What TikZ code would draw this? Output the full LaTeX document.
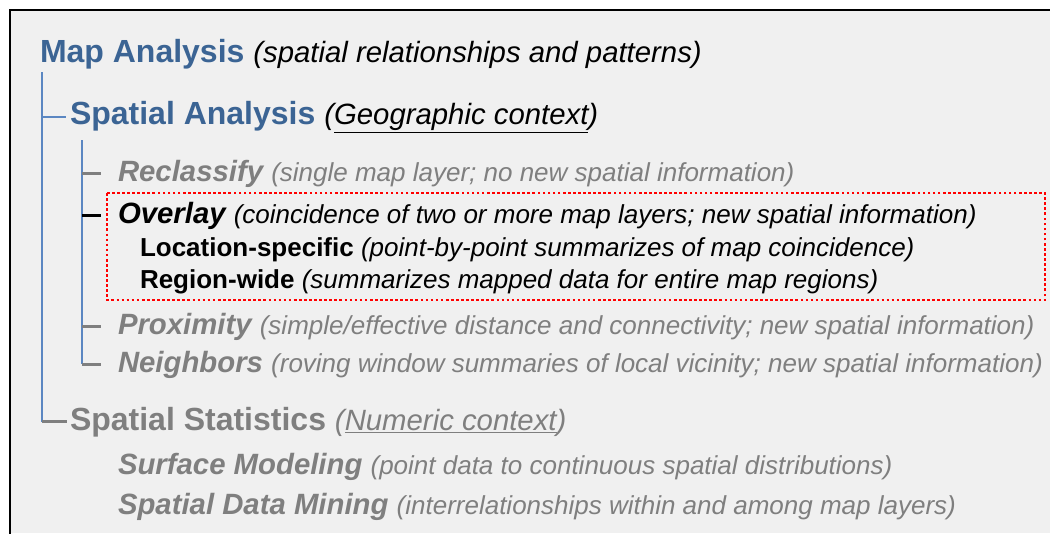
\documentclass[tikz,border=0pt]{standalone}
\usepackage{fontspec}
\setmainfont{Liberation Sans}
\definecolor{titleblue}{HTML}{3B6494}
\definecolor{trunkblue}{HTML}{5B87C2}
\definecolor{midgray}{HTML}{7F7F7F}
\definecolor{panelgray}{HTML}{F0F0F0}
\newcommand\fsBig{\fontsize{24pt}{28pt}\selectfont}
\newcommand\fsMid{\fontsize{22pt}{26pt}\selectfont}
\newcommand\fsSmall{\fontsize{19.5pt}{23pt}\selectfont}
\begin{document}
\begin{tikzpicture}[x=0.75pt,y=-0.75pt,
  line/.style={anchor=base west, inner sep=0pt, outer sep=0pt},
  trunk/.style={draw=trunkblue, line width=1.9pt},
  branchgray/.style={draw=midgray, line width=1.9pt},
  branchblack/.style={draw=black, line width=1.9pt},
  redbox/.style={draw=red, line width=2pt, dash pattern=on 2pt off 1.8pt}]
\useasboundingbox (0,0) rectangle (1050,533);
\fill[white] (0,0) rectangle (1050,533);
\fill[panelgray] (10,10) rectangle (1050,533);
\draw[black, line width=2.2pt] (10,545) -- (10,10) -- (1055,10);

% texts
\node[line] (ma) at (40,62) {\fsBig\bfseries\color{titleblue}Map Analysis \fsMid\mdseries\itshape\color{black}(spatial relationships and patterns)};
\node[line] (sa) at (70,124) {\fsBig\bfseries\color{titleblue}Spatial Analysis \fsMid\mdseries\itshape\color{black}(\underline{Geographic context})};
\node[line] (rc) at (118,181) {\fsMid\bfseries\itshape\color{midgray}Reclassify \fsSmall\mdseries(single map layer; no new spatial information)};
\node[line] (ov) at (118,223) {\fsMid\bfseries\itshape Overlay \fsSmall\mdseries(coincidence of two or more map layers; new spatial information)};
\node[line] (ls) at (140,256) {\fsSmall\bfseries Location-specific \mdseries\itshape(point-by-point summarizes of map coincidence)};
\node[line] (rw) at (140,288) {\fsSmall\bfseries Region-wide \mdseries\itshape(summarizes mapped data for entire map regions)};
\node[line] (px) at (118,334) {\fsMid\bfseries\itshape\color{midgray}Proximity \fsSmall\mdseries(simple/effective distance and connectivity; new spatial information)};
\node[line] (nb) at (118,372) {\fsMid\bfseries\itshape\color{midgray}Neighbors \fsSmall\mdseries(roving window summaries of local vicinity; new spatial information)};
\node[line] (ss) at (70,430) {\fsBig\bfseries\color{midgray}Spatial Statistics \fsMid\mdseries\itshape(\underline{Numeric context})};
\node[line] (sm) at (118,474) {\fsMid\bfseries\itshape\color{midgray}Surface Modeling \fsSmall\mdseries(point data to continuous spatial distributions)};
\node[line] (dm) at (118,514) {\fsMid\bfseries\itshape\color{midgray}Spatial Data Mining \fsSmall\mdseries(interrelationships within and among map layers)};

% tree
\coordinate (t1) at (42,72);
\coordinate (t2) at (82,140);
\draw[trunk] (t1) -- (t1 |- ss.west);
\draw[trunk] (t1 |- sa.west) -- ([xshift=-3pt]sa.west);
\draw[branchgray] (t1 |- ss.west) -- ([xshift=-2pt]ss.west);
\draw[trunk] (t2) -- (t2 |- nb.west);
\draw[branchgray] (t2 |- rc.west) -- ([xshift=-13pt]rc.west);
\draw[branchblack] (t2 |- ov.west) -- ([xshift=-13pt]ov.west);
\draw[branchgray] (t2 |- px.west) -- ([xshift=-13pt]px.west);
\draw[branchgray] (t2 |- nb.west) -- ([xshift=-13pt]nb.west);

% highlight box
\draw[redbox] (107,193) rectangle (1045,300);
\end{tikzpicture}
\end{document}
